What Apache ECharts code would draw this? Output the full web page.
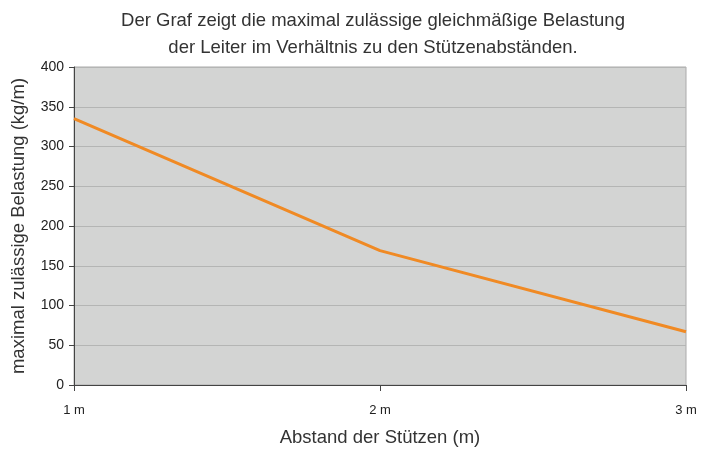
<!DOCTYPE html>
<html>
<head>
<meta charset="utf-8">
<title>Belastung</title>
<script src="https://cdn.jsdelivr.net/npm/echarts@6/dist/echarts.min.js"></script>
<style>
  html, body { margin: 0; padding: 0; background: #fff; }
  #chart { width: 701px; height: 450px; }
</style>
</head>
<body>
<div id="chart"></div>
<script>
var abstand = ['1 m', '2 m', '3 m'];
var belastung = [335, 169, 67];

var chart = echarts.init(document.getElementById('chart'));
chart.setOption({
    animation: false,
    textStyle: { fontFamily: 'Liberation Sans, Arial, sans-serif' },
    title: {
        text: 'Der Graf zeigt die maximal zulässige gleichmäßige Belastung\nder Leiter im Verhältnis zu den Stützenabständen.',
        left: 368,
        top: 2,
        textAlign: 'center',
        textStyle: { fontSize: 18.5, fontWeight: 'normal', color: '#333', lineHeight: 27 }
    },
    grid: {
        left: 74, right: 15, top: 67, bottom: 65,
        outerBoundsMode: 'none',
        show: true, backgroundColor: '#d3d4d3', borderColor: '#aaa', borderWidth: 1
    },
    xAxis: {
        type: 'category',
        data: abstand,
        boundaryGap: false,
        name: 'Abstand der Stützen (m)',
        nameLocation: 'middle',
        nameGap: 43,
        nameTextStyle: { fontSize: 18.5, color: '#333' },
        axisLine: { lineStyle: { color: '#444', width: 1 } },
        axisTick: { length: 6, lineStyle: { color: '#444' } },
        axisLabel: { fontSize: 13, color: '#222', margin: 19 },
        splitLine: { show: false }
    },
    yAxis: {
        type: 'value',
        min: 0,
        max: 400,
        interval: 50,
        name: 'maximal zulässige Belastung (kg/m)',
        nameLocation: 'middle',
        nameGap: 46,
        nameTextStyle: { fontSize: 18.5, color: '#333' },
        axisLine: { show: true, lineStyle: { color: '#444', width: 1 } },
        axisTick: { show: true, length: 5, lineStyle: { color: '#444' } },
        axisLabel: { fontSize: 14, color: '#222', margin: 10 },
        splitLine: { lineStyle: { color: '#b4b5b4', width: 1 } }
    },
    series: [{
        type: 'line',
        data: belastung,
        symbol: 'none',
        lineStyle: { color: '#f08a24', width: 3 }
    }]
});
</script>
</body>
</html>
